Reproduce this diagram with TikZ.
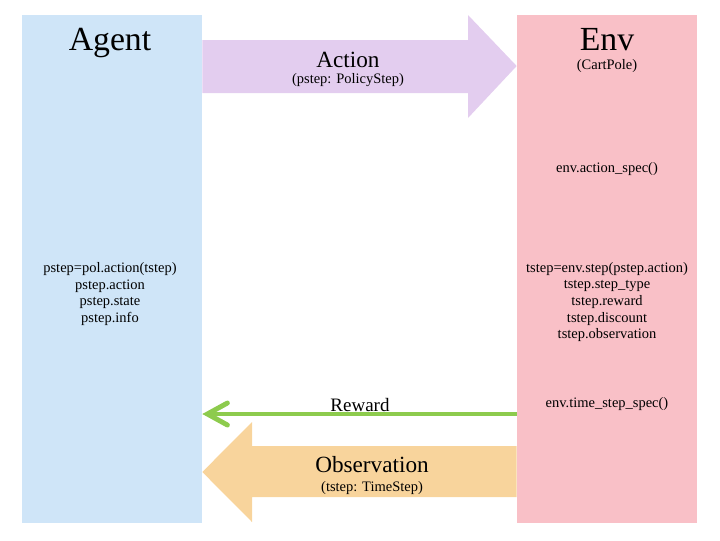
\documentclass[tikz,border=0pt]{standalone}
\usepackage{fontspec}
\setmainfont{Liberation Serif}
\usetikzlibrary{arrows.meta}

\definecolor{agentblue}{HTML}{CFE5F8}
\definecolor{envpink}{HTML}{F9C0C7}
\definecolor{actionpurple}{HTML}{E3CDEF}
\definecolor{obsorange}{HTML}{F8D49C}
\definecolor{rewardgreen}{HTML}{8DCB4D}

\tikzset{
  panel/.style={minimum width=4.5cm, minimum height=12.7cm, inner sep=0pt},
  title/.style={anchor=base, inner sep=0pt, font=\fontsize{24}{28}\selectfont},
  flowname/.style={anchor=base, inner sep=0pt, font=\fontsize{16.5}{19}\selectfont},
  small/.style={anchor=base, inner sep=0pt, font=\fontsize{10.3}{12}\selectfont},
  calls/.style={align=center, inner sep=0pt, font=\fontsize{10.3}{11.8}\selectfont},
  reward line/.style={draw=rewardgreen, line width=3.5pt,
    -{Straight Barb[length=5mm, width=5.5mm, line cap=round]}}
}

\begin{document}
\begin{tikzpicture}[x=0.025cm, y=-0.025cm]
    \useasboundingbox (0,0) rectangle (720,540);

    % the two sides
    \node[panel, fill=agentblue] (agent) at (112,269) {};
    \node[panel, fill=envpink] (env) at (607,269) {};

    \node[title] (agenttitle) at (110,50) {Agent};
    \node[title] (envtitle) at (607,50) {Env};
    \node[small] (cartpole) at (607,69) {(CartPole)};

    % big arrows
    \fill[actionpurple] (agent.east |- 0,40) -- (468,40) -- (468,15)
        -- (env.west |- 0,66) -- (468,118) -- (468,93) -- (agent.east |- 0,93) -- cycle;
    \fill[obsorange] (env.west |- 0,446) -- (252,446) -- (252,422)
        -- (agent.east |- 0,472) -- (252,522) -- (252,497) -- (env.west |- 0,497) -- cycle;

    \node[flowname] (action) at (348,67) {Action};
    \node[small] (actiontype) at (348,83) {(pstep: PolicyStep)};
    \node[flowname] (observation) at (372,472) {Observation};
    \node[small] (obstype) at (372,491) {(tstep: TimeStep)};

    % reward
    \node[anchor=base, inner sep=0pt, font=\fontsize{13.5}{16}\selectfont] (reward) at (360,411) {Reward};
    \draw[reward line] (env.west |- 0,414) -- (agent.east |- 0,414);

    % calls on each side
    \node[calls] (agentcalls) at (110,294)
        {pstep=pol.action(tstep)\\pstep.action\\pstep.state\\pstep.info};
    \node[small] (actionspec) at (607,172) {env.action\_spec()};
    \node[calls] (envcalls) at (607,302)
        {tstep=env.step(pstep.action)\\tstep.step\_type\\tstep.reward\\tstep.discount\\tstep.observation};
    \node[small] (timestepspec) at (607,407) {env.time\_step\_spec()};
\end{tikzpicture}
\end{document}
